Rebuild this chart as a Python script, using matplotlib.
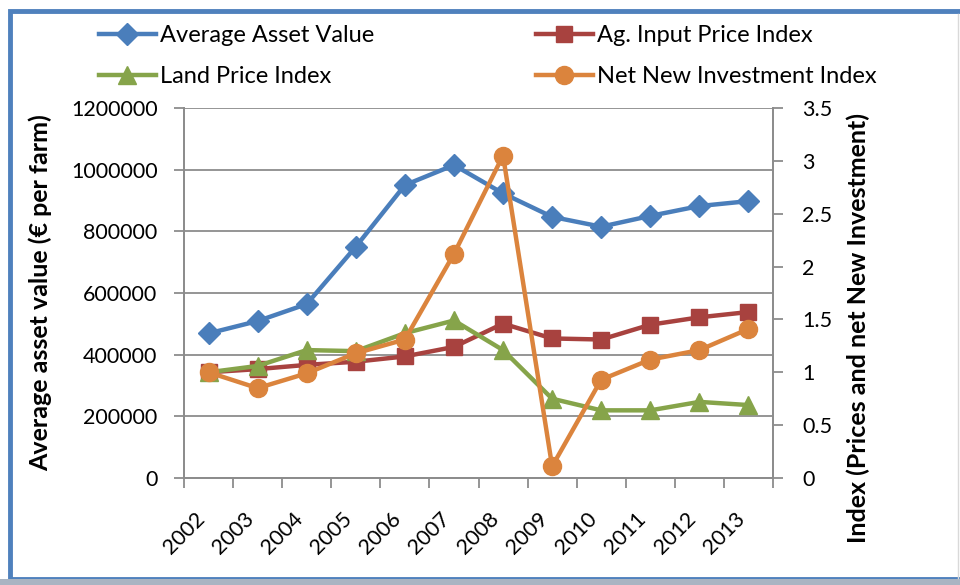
import numpy as np
import matplotlib.pyplot as plt
from matplotlib.patches import Rectangle
from matplotlib.lines import Line2D
from matplotlib.ticker import FuncFormatter

plt.rcParams['font.family'] = ['Lato', 'DejaVu Sans']

years = ["2002", "2003", "2004", "2005", "2006", "2007",
         "2008", "2009", "2010", "2011", "2012", "2013"]

# left axis (euro per farm)
asset_value = [469000, 509000, 564000, 750000, 950000, 1015000,
               923000, 847000, 815000, 850000, 882000, 898000]
# right axis (index)
input_price = [1.00, 1.03, 1.07, 1.10, 1.15, 1.24, 1.46, 1.32, 1.31, 1.45, 1.52, 1.57]
land_price = [1.00, 1.06, 1.21, 1.20, 1.37, 1.49, 1.21, 0.75, 0.64, 0.64, 0.72, 0.69]
net_invest = [1.00, 0.85, 0.99, 1.18, 1.31, 2.12, 3.05, 0.11, 0.93, 1.12, 1.21, 1.41]

c_blue = "#4A7EBB"
c_red = "#A8423F"
c_green = "#86A44A"
c_orange = "#DB843D"
grid_c = "#8C8C8C"

W, H = 960, 585
fig = plt.figure(figsize=(W / 100, H / 100), dpi=100)

def fx(px):
    return px / W

def fy(py):
    return 1 - py / H

ax = fig.add_axes([fx(184), fy(478), fx(773) - fx(184), fy(108) - fy(478)])
ax2 = ax.twinx()

x = np.arange(len(years))
lw = 3.2
h_asset, = ax.plot(x, asset_value, color=c_blue, lw=lw, marker="D", ms=11, zorder=3)
h_input, = ax2.plot(x, input_price, color=c_red, lw=lw, marker="s", ms=11.5, zorder=3)
h_land, = ax2.plot(x, land_price, color=c_green, lw=lw, marker="^", ms=13, zorder=3)
h_inv, = ax2.plot(x, net_invest, color=c_orange, lw=lw, marker="o", ms=13, zorder=4)

ax.set_xlim(-0.5, len(years) - 0.5)
ax.set_ylim(0, 1200000)
ax2.set_ylim(0, 3.5)
ax.set_yticks(np.arange(0, 1200001, 200000))
ax.yaxis.set_major_formatter(FuncFormatter(lambda v, p: f"{int(v)}"))
ax2.set_yticks(np.arange(0, 3.51, 0.5))
ax2.set_yticklabels(["0", "0.5", "1", "1.5", "2", "2.5", "3", "3.5"])
ax.grid(axis="y", color=grid_c, lw=1.3)
ax.set_axisbelow(True)

tick_fs = 15.5
ax.set_xticks(x)
ax.set_xticklabels(years, rotation=45, ha="right")
ax.set_xticks(np.arange(-0.5, len(years)), minor=True)
ax.tick_params(axis="x", which="major", length=0, pad=22, labelsize=tick_fs)
ax.tick_params(axis="x", which="minor", length=7, width=1.3, color=grid_c, direction="out")
ax.tick_params(axis="y", length=7, width=1.3, color=grid_c, pad=12, labelsize=tick_fs)
ax2.tick_params(axis="y", length=7, width=1.3, color=grid_c, pad=14, labelsize=tick_fs)

for a in (ax, ax2):
    for s in a.spines.values():
        s.set_color(grid_c)
        s.set_linewidth(1.3)
    a.spines["top"].set_visible(False)

pw = 773 - 184
ph = 478 - 108
ax.set_ylabel("Average asset value (€ per farm)", fontsize=18, fontweight="bold")
ax2.set_ylabel("Index (Prices and net New Investment)", fontsize=18, fontweight="bold")
ax.yaxis.set_label_coords((52 - 184) / pw, 0.5)
ax2.yaxis.set_label_coords((847 - 184) / pw, (478 - 328) / ph)

# legends, two columns placed separately
leg_kw = dict(frameon=False, fontsize=17, handlelength=2.4, handletextpad=0.2,
              borderpad=0, borderaxespad=0, labelspacing=0.85, loc="upper left")
leg1 = fig.legend([h_asset, h_land], ["Average Asset Value", "Land Price Index"],
                  bbox_to_anchor=(fx(99), fy(25)), **leg_kw)
leg2 = fig.legend([h_input, h_inv], ["Ag. Input Price Index", "Net New Investment Index"],
                  bbox_to_anchor=(fx(536), fy(25)), **leg_kw)

# chart frame
fig.patches.append(Rectangle((fx(10), fy(579)), 1.2, fy(11) - fy(579), transform=fig.transFigure,
                             fill=False, edgecolor="#4F81BD", lw=3.5, zorder=0))
fig.patches.append(Rectangle((0, 0), 1, fy(579), transform=fig.transFigure,
                             facecolor="#A9B4C2", edgecolor="none", zorder=0))
fig.add_artist(Line2D([fx(958), fx(958)], [fy(578), fy(14)], transform=fig.transFigure,
                      color="#D9D9D9", lw=1))

fig.savefig("out.png", dpi=100)
